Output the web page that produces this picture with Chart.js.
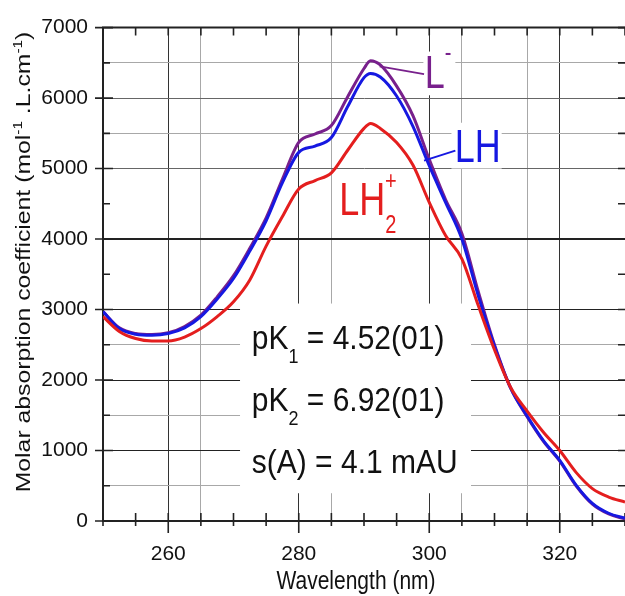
<!doctype html>
<html>
<head>
	<title>Molar absorption spectra</title>
	<script src="https://cdn.jsdelivr.net/npm/chart.js@4/dist/chart.umd.min.js"></script>
	<style>
		html, body { margin: 0; padding: 0; background: #fff; }
		canvas { display: block; }
	</style>
</head>
<body>
	<canvas id="chart" width="625" height="596"></canvas>
	<script>
		// spectra (nm, mol-1.L.cm-1)
		var wavelengths = [250, 252.5, 255, 257.5, 260, 262.5, 265, 267.5, 270, 272.5, 275, 277.5, 280, 282.5, 285, 287.5, 290, 291, 292.5, 295, 297.5, 300, 302.5, 305, 307.5, 310, 312.5, 315, 317.5, 320, 322.5, 325, 327.5, 330];
		var epsL = [2970, 2740, 2660, 2645, 2670, 2760, 2920, 3180, 3480, 3870, 4300, 4850, 5370, 5490, 5610, 6020, 6420, 6530, 6470, 6170, 5750, 5130, 4560, 4080, 3260, 2500, 1880, 1480, 1130, 850, 500, 240, 100, 30];
		var epsLH = [2970, 2730, 2650, 2635, 2660, 2740, 2900, 3150, 3440, 3830, 4260, 4800, 5230, 5320, 5440, 5880, 6290, 6350, 6300, 6030, 5600, 5040, 4520, 4000, 3200, 2480, 1880, 1490, 1140, 860, 510, 250, 110, 40];
		var epsLH2 = [2900, 2690, 2590, 2555, 2555, 2610, 2730, 2900, 3110, 3420, 3900, 4320, 4710, 4830, 4940, 5260, 5570, 5640, 5570, 5370, 5050, 4520, 4050, 3720, 3060, 2430, 1890, 1560, 1260, 1000, 690, 460, 340, 270];

		var xTickLabels = [260, 280, 300, 320];
		var yTickLabels = [0, 1000, 2000, 3000, 4000, 5000, 6000, 7000];
		var xGridDark = [260, 280, 300, 320];
		var xGridLight = [265, 285, 305, 315];
		var yGridDark = [1000, 2000, 3000, 4000];
		var yGridMid = [5000, 6000];
		var yGridLight = [500, 1500, 2500, 5500, 6500];

		var FONT = "'Liberation Sans', Arial, sans-serif";
		var PURPLE = 'rgb(120,32,140)';
		var BLUE = 'rgb(22,24,225)';
		var RED = 'rgb(228,30,30)';

		function pairs(ys) {
			return wavelengths.map(function(x, i) { return {x: x, y: ys[i]}; });
		}

		// draw a row of text pieces (sub/superscripts), optionally stretched and rotated
		function drawRuns(ctx, runs, x, y, opts) {
			opts = opts || {};
			var total = 0;
			runs.forEach(function(r) {
				ctx.font = r.s + 'px ' + FONT;
				r.w = ctx.measureText(r.t).width;
				total += r.w;
			});
			ctx.save();
			ctx.translate(x, y);
			if (opts.rotate) ctx.rotate(opts.rotate);
			ctx.scale(opts.sx || 1, opts.sy || 1);
			ctx.fillStyle = opts.color || '#111';
			ctx.textBaseline = 'alphabetic';
			ctx.textAlign = 'left';
			var cx = opts.align === 'center' ? -total / 2 : 0;
			runs.forEach(function(r) {
				ctx.font = r.s + 'px ' + FONT;
				ctx.fillText(r.t, cx, r.dy || 0);
				cx += r.w;
			});
			ctx.restore();
		}

		var decorPlugin = {
			id: 'decor',
			beforeDatasetsDraw: function(chart) {
				var ctx = chart.ctx, xs = chart.scales.x, ys = chart.scales.y, a = chart.chartArea;
				var px = function(v) { return xs.getPixelForValue(v); };
				var py = function(v) { return ys.getPixelForValue(v); };
				ctx.save();
				// white boxes behind the annotations
				ctx.fillStyle = '#fff';
				[[271.0, 306.4, 3085, 394], [299.1, 304.0, 6660, 6040], [303.4, 311.1, 5650, 5000]].forEach(function(b) {
					ctx.fillRect(px(b[0]), py(b[2]), px(b[1]) - px(b[0]), py(b[3]) - py(b[2]));
				});
				// top frame
				ctx.strokeStyle = '#222';
				ctx.lineWidth = 2;
				ctx.beginPath();
				ctx.moveTo(a.left - 1, a.top);
				ctx.lineTo(a.right, a.top);
				ctx.stroke();
				// tick marks (inside the frame)
				ctx.lineWidth = 1.6;
				ctx.beginPath();
				for (var v = 250; v <= 330; v += 5) {
					var x = px(v);
					var major = xTickLabels.indexOf(v) >= 0;
					ctx.moveTo(x, a.bottom - 8);
					ctx.lineTo(x, a.bottom + (major ? 12 : 5));
					ctx.moveTo(x, a.top);
					ctx.lineTo(x, a.top + 8);
				}
				for (var w = 0; w <= 7000; w += 500) {
					var y = py(w);
					var maj = yTickLabels.indexOf(w) >= 0;
					ctx.moveTo(a.left - (maj ? 8 : 0), y);
					ctx.lineTo(a.left + (maj ? 10 : 7), y);
					ctx.moveTo(a.right - 7, y);
					ctx.lineTo(a.right, y);
				}
				ctx.stroke();
				ctx.restore();

				// fit results
				drawRuns(ctx, [{t: 'pK', s: 30}, {t: '1', s: 18, dy: 12.5}, {t: ' = 4.52(01)', s: 30}], px(272.8), py(2437), {sy: 1.1});
				drawRuns(ctx, [{t: 'pK', s: 30}, {t: '2', s: 18, dy: 12.5}, {t: ' = 6.92(01)', s: 30}], px(272.8), py(1563), {sy: 1.1});
				drawRuns(ctx, [{t: 's(A) = 4.1 mAU', s: 30}], px(272.8), py(676), {sy: 1.1});
			},
			afterDatasetsDraw: function(chart) {
				var ctx = chart.ctx, xs = chart.scales.x, ys = chart.scales.y;
				var px = function(v) { return xs.getPixelForValue(v); };
				var py = function(v) { return ys.getPixelForValue(v); };
				ctx.save();
				ctx.lineWidth = 2;
				ctx.strokeStyle = PURPLE;
				ctx.beginPath();
				ctx.moveTo(px(292.4), py(6450));
				ctx.lineTo(px(299.2), py(6340));
				ctx.stroke();
				ctx.strokeStyle = BLUE;
				ctx.beginPath();
				ctx.moveTo(px(299.2), py(5113));
				ctx.lineTo(px(304.0), py(5254));
				ctx.stroke();
				ctx.restore();

				var sy = 1.28;
				drawRuns(ctx, [{t: 'L', s: 36}, {t: '-', s: 20, dy: -27 / sy}], px(299.3), py(6140), {sy: sy, color: PURPLE});
				drawRuns(ctx, [{t: 'LH', s: 36}], px(303.9), py(5099), {sy: sy, color: BLUE});
				drawRuns(ctx, [{t: 'LH', s: 36}, {t: '2', s: 20, dy: 18 / sy}], px(286.2), py(4338), {sy: sy, color: RED});
				drawRuns(ctx, [{t: '+', s: 20}], px(293.2), py(4704), {sy: sy, color: RED});
			},
			afterDraw: function(chart) {
				var ctx = chart.ctx;
				drawRuns(ctx, [
					{t: 'Molar absorption coefficient (mol', s: 21},
					{t: '-1', s: 13, dy: -8},
					{t: ' .L.cm', s: 21},
					{t: '-1', s: 13, dy: -8},
					{t: ')', s: 21}
				], 30, 262, {rotate: -Math.PI / 2, sx: 1.18, align: 'center'});
				drawRuns(ctx, [{t: 'Wavelength (nm)', s: 21}], 356, 589, {sy: 1.25, align: 'center'});
			}
		};

		window.onload = function() {
			var ctx = document.getElementById('chart').getContext('2d');
			new Chart(ctx, {
				type: 'line',
				data: {
					datasets: [{
						label: 'LH2+',
						data: pairs(epsLH2),
						borderColor: RED,
						order: 0
					}, {
						label: 'LH',
						data: pairs(epsLH),
						borderColor: BLUE,
						order: 1
					}, {
						label: 'L-',
						data: pairs(epsL),
						borderColor: PURPLE,
						order: 2
					}]
				},
				options: {
					responsive: false,
					animation: false,
					events: [],
					layout: {padding: {top: 25, right: 0, left: 0, bottom: 0}},
					elements: {
						point: {radius: 0},
						line: {borderWidth: 3, cubicInterpolationMode: 'monotone', fill: false}
					},
					plugins: {
						legend: {display: false},
						tooltip: {enabled: false}
					},
					scales: {
						x: {
							type: 'linear',
							min: 250,
							max: 330,
							afterFit: function(s) {
								s.height = 75;
								s.paddingLeft = 0;
								s.paddingRight = 0;
							},
							border: {display: true, color: '#222', width: 2},
							grid: {
								drawTicks: false,
								lineWidth: 1,
								color: function(c) {
									var v = c.tick.value;
									if (xGridDark.indexOf(v) >= 0) return '#333';
									if (xGridLight.indexOf(v) >= 0) return '#a8a8a8';
									return 'rgba(0,0,0,0)';
								}
							},
							ticks: {
								stepSize: 5,
								autoSkip: false,
								maxRotation: 0,
								padding: 21,
								color: '#111',
								font: {family: FONT, size: 21},
								callback: function(v) { return xTickLabels.indexOf(v) >= 0 ? String(v) : ''; }
							}
						},
						y: {
							min: 0,
							max: 7000,
							afterFit: function(s) { s.width = 103; },
							border: {display: true, color: '#222', width: 2},
							grid: {
								drawTicks: false,
								lineWidth: function(c) { return c.tick.value === 4000 ? 2 : 1; },
								color: function(c) {
									var v = c.tick.value;
									if (yGridDark.indexOf(v) >= 0) return '#222';
									if (yGridMid.indexOf(v) >= 0) return '#666';
									if (yGridLight.indexOf(v) >= 0) return '#a8a8a8';
									return 'rgba(0,0,0,0)';
								}
							},
							ticks: {
								stepSize: 500,
								autoSkip: false,
								padding: 15,
								color: '#111',
								font: {family: FONT, size: 21},
								callback: function(v) { return yTickLabels.indexOf(v) >= 0 ? String(v) : ''; }
							}
						}
					}
				},
				plugins: [decorPlugin]
			});
		};
	</script>
</body>
</html>
